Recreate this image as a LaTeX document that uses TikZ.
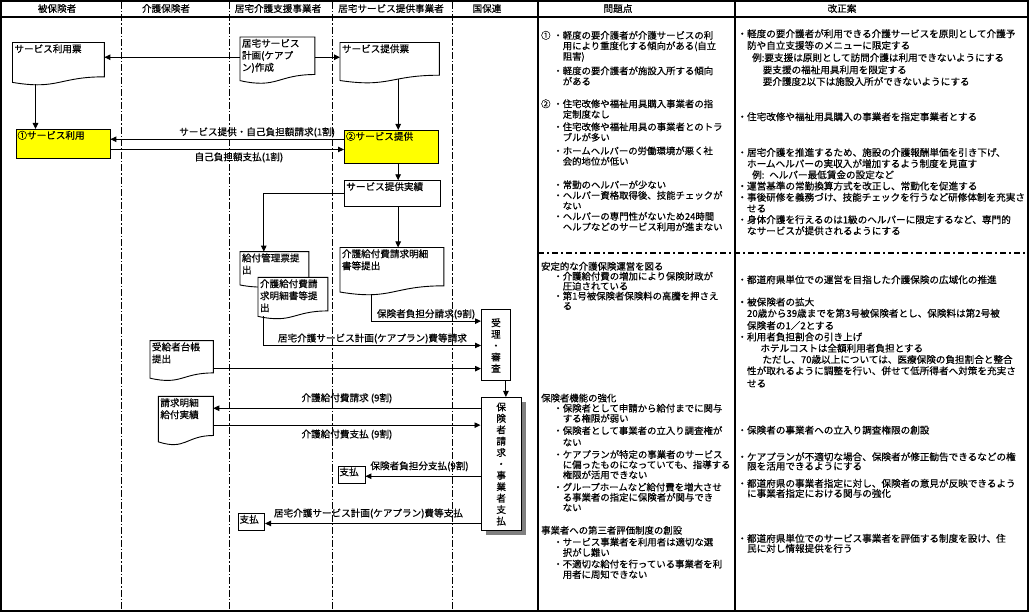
\documentclass[tikz,border=0pt]{standalone}
\usepackage{fontspec}
\setmainfont{Noto Sans CJK JP}[FakeBold=0.5]
\usepackage{tikz}
\usetikzlibrary{calc,positioning,arrows.meta,shadows}
\usepackage{xcolor}
\definecolor{myyellow}{RGB}{255,255,0}
\definecolor{mygray}{RGB}{128,128,128}

% outline of a flowchart "document" around a node
\newcommand{\docline}[1]{%
  \draw (#1.north west) -- (#1.north east)
    -- ($(#1.north east)!0.80!(#1.south east)$)
    .. controls ($(#1.north)!0.80!(#1.south)$) and ($(#1.north)!1.11!(#1.south)$)
    .. ($(#1.north west)!0.93!(#1.south west)$) -- cycle;}
\newcommand{\ind}{\hspace*{1.3em}}
\newcommand{\indd}{\hspace*{2.3em}}
\newcommand{\kind}{\hspace*{1em}}

\begin{document}
\begin{tikzpicture}[x=1pt, y=-1pt, line width=0.9pt,
  font=\fontsize{9.6}{12}\selectfont,
  arr/.style={-{Triangle[length=6pt,width=5.5pt]}},
  tbox/.style 2 args={anchor=north west, inner sep=1.5pt, text width=#1, text height=8pt, text depth=#2, align=left},
  vbox/.style={draw, fill=white, anchor=north west, inner sep=0pt, align=center, font=\fontsize{9.6}{11.4}\selectfont},
  lbl/.style={inner sep=1.5pt},
  colline/.style={line width=0.8pt, dash pattern=on 7pt off 2pt on 1.5pt off 2pt},
  note/.style={anchor=north west, inner sep=0pt, align=left, text width=#1}]

  \useasboundingbox (0,0) rectangle (1029,612);

  % frame and lanes
  \foreach \x in {121,229,332,452} \draw[colline] (\x,2) -- (\x,610);
  \draw[line width=2pt] (538,1) -- (538,611);
  \draw[line width=2pt] (735,1) -- (735,611);
  \draw[line width=2pt] (1,17) -- (1028,17);
  \draw[line width=2pt] (1,1) rectangle (1028,611);
  \draw[line width=2pt, dash pattern=on 6pt off 3pt on 2pt off 3pt] (538,252.7) -- (1028,252.7);

  % headers
  \node (hhiho) at (57,8.5) {被保険者};
  \node (hkaigo) at (166,8.5) {介護保険者};
  \node (hkyotaku) at (278,8.5) {居宅介護支援事業者};
  \node (hservice) at (391,8.5) {居宅サービス提供事業者};
  \node (hkokuho) at (487,8.5) {国保連};
  \node (hmondai) at (618,8.5) {問題点};
  \node (hkaisei) at (842,8.5) {改正案};

  % flow boxes
  \node[tbox={88pt}{31pt}] (riyohyo) at (12.5,42.5) {サービス利用票};
  \docline{riyohyo}
  \node[tbox={71pt}{35pt}] (plan) at (240,37) {居宅サービス\\計画(ケアプ\\ン)作成};
  \docline{plan}
  \node[tbox={95.5pt}{29pt}] (teikyohyo) at (340,42.5) {サービス提供票};
  \docline{teikyohyo}
  \node[tbox={91pt}{18.5pt}, draw, fill=myyellow] (riyo) at (15.5,129) {①サービス利用};
  \node[tbox={91pt}{22pt}, draw, fill=myyellow] (teikyo) at (344,130) {②サービス提供};
  \node[tbox={92.3pt}{14.5pt}, draw] (jisseki) at (344.4,180.3) {サービス提供実績};
  \node[tbox={100pt}{36pt}] (meisai) at (340,247.5) {介護給付費請求明細\\書等提出};
  \docline{meisai}
  \node[tbox={65pt}{24pt}] (kanri) at (240,251.6) {給付管理票提\\出};
  \docline{kanri}
  \node[tbox={66pt}{30pt}, fill=white] (kmeisai) at (258,277.4) {介護給付費請\\求明細書等提\\出};
  \docline{kmeisai}
  \node[tbox={59.5pt}{28.5pt}] (daicho) at (150,340.6) {受給者台帳\\提出};
  \docline{daicho}
  \node[vbox, minimum width=29pt, minimum height=71pt] (juri) at (481,309.5) {受\\理\\・\\審\\査};
  \node[vbox, minimum width=40.5pt, minimum height=133pt,
    drop shadow={shadow xshift=5pt, shadow yshift=-5pt, fill=mygray, opacity=1}] (hoken) at (480.5,397)
    {保\\険\\者\\請\\求\\・\\事\\業\\者\\支\\払};
  \node[tbox={51pt}{37pt}] (seikyu) at (158.4,396.4) {請求明細\\給付実績};
  \docline{seikyu}
  \node[tbox={24pt}{6pt}, draw] (shiharai1) at (337.5,465.5) {支払};
  \node[tbox={23.5pt}{6pt}, draw] (shiharai2) at (237.6,513) {支払};

  % connectors
  \draw[arr] ([yshift=3.2pt]plan.west) -- ([yshift=3.2pt]plan.west -| riyohyo.east);
  \draw[arr] ([yshift=3.2pt]plan.east) -- ([yshift=3.2pt]plan.east -| teikyohyo.west);
  \draw[arr] ([xshift=23pt,yshift=1pt]riyohyo.south west) -- ([xshift=23pt]riyohyo.south west |- riyo.north);
  \draw[arr] ([xshift=8.5pt,yshift=4pt]teikyohyo.south) -- ([xshift=8.5pt]teikyohyo.south |- teikyo.north);
  \draw[arr] ([yshift=7.7pt]teikyo.west) -- ([yshift=7.7pt]teikyo.west -| riyo.east)
    node[lbl, pos=0.03, above left] {サービス提供・自己負担額請求(1割)};
  \draw[arr] ([yshift=-5.25pt]riyo.east) -- ([yshift=-5.25pt]riyo.east -| teikyo.west)
    node[lbl, pos=0.55, below, yshift=-1pt] {自己負担額支払(1割)};
  \draw[arr] ([xshift=6.7pt]teikyo.south) -- ([xshift=6.7pt]teikyo.south |- jisseki.north);
  \draw[arr] (jisseki.west) -| ([xshift=23.8pt]kanri.north west);
  \draw[arr] ([xshift=5.65pt]jisseki.south) -- ([xshift=5.65pt]jisseki.south |- meisai.north);
  \draw[arr] ([xshift=31.2pt,yshift=1pt]meisai.south west) |- ([yshift=24.3pt]juri.west)
    node[lbl, pos=0.75, above] {保険者負担分請求(9割)};
  \draw[arr] ([xshift=5.8pt,yshift=3pt]kmeisai.south west) |- (juri.west)
    node[lbl, pos=0.75, above] {居宅介護サービス計画(ケアプラン)費等請求};
  \draw[arr] ([yshift=-7.85pt]daicho.east) -- ([yshift=-7.85pt]daicho.east -| juri.west);
  \draw[arr] ([xshift=-5pt]juri.south east) -- ([xshift=-5pt]juri.south east |- hoken.north);
  \draw[arr] ([yshift=12.6pt]seikyu.east -| hoken.west) -- ([yshift=12.6pt]seikyu.east)
    node[lbl, midway, above, yshift=3pt] {介護給付費請求 (9割)};
  \draw[arr] ([yshift=-4.3pt]seikyu.east) -- ([yshift=-4.3pt]seikyu.east -| hoken.west)
    node[lbl, midway, below, yshift=-2.5pt] {介護給付費支払 (9割)};
  \draw[arr] ([yshift=-1.8pt]shiharai1.east -| hoken.west) -- ([yshift=-1.8pt]shiharai1.east)
    node[lbl, pos=0.53, above, yshift=3pt] {保険者負担分支払(9割)};
  \draw[arr] ([yshift=-1.5pt]shiharai2.east -| hoken.west) -- ([yshift=-1.5pt]shiharai2.east)
    node[lbl, pos=0.52, above, yshift=3pt] {居宅介護サービス計画(ケアプラン)費等支払};

  % problems
  \node[note=195pt, font=\fontsize{9.4}{10.5}\selectfont] (mondai1) at (540.7,30.5) {%
    ①\hspace{0.3em}・軽度の要介護者が介護サービスの利\\
    \indd 用により重度化する傾向がある(自立\\
    \indd 阻害)\\[4pt]
    \ind ・軽度の要介護者が施設入所する傾向\\
    \indd がある\\[12pt]
    ②\hspace{0.3em}・住宅改修や福祉用具購入事業者の指\\
    \indd 定制度なし\\[2pt]
    \ind ・住宅改修や福祉用具の事業者とのトラ\\
    \indd ブルが多い\\[3pt]
    \ind ・ホームヘルパーの労働環境が悪く社\\
    \indd 会的地位が低い\\[13pt]
    \ind ・常勤のヘルパーが少ない\\
    \ind ・ヘルパー資格取得後、技能チェックが\\
    \indd ない\\
    \ind ・ヘルパーの専門性がないため24時間\\
    \indd ヘルプなどのサービス利用が進まない};
  \node[note=195pt, font=\fontsize{9.4}{9.9}\selectfont] (mondai2) at (540.7,261.5) {%
    安定的な介護保険運営を図る\\
    \ind ・介護給付費の増加により保険財政が\\
    \indd 圧迫されている\\
    \ind ・第1号被保険者保険料の高騰を押さえ\\
    \indd る};
  \node[note=195pt, font=\fontsize{9.4}{10.2}\selectfont] (mondai3) at (540.7,393.2) {%
    保険者機能の強化\\
    \ind ・保険者として申請から給付までに関与\\
    \indd する権限が弱い\\[2pt]
    \ind ・保険者として事業者の立入り調査権が\\[1.5pt]
    \indd ない\\[2pt]
    \ind ・ケアプランが特定の事業者のサービス\\
    \indd に偏ったものになっていても、指導する\\
    \indd 権限が活用できない\\[2pt]
    \ind ・グループホームなど給付費を増大させ\\
    \indd る事業者の指定に保険者が関与でき\\
    \indd ない};
  \node[note=195pt, font=\fontsize{9.4}{10.5}\selectfont] (mondai4) at (540.7,525.5) {%
    事業者への第三者評価制度の創設\\[1.2pt]
    \ind ・サービス事業者を利用者は適切な選\\
    \indd 択がし難い\\[1pt]
    \ind ・不適切な給付を行っている事業者を利\\
    \indd 用者に周知できない};

  % proposals
  \node[note=290pt, font=\fontsize{9.6}{11.2}\selectfont] (kaisei1) at (737,28.8) {%
    ・軽度の要介護者が利用できる介護サービスを原則として介護予\\[0.5pt]
    \kind 防や自立支援等のメニューに限定する\\[1pt]
    \hspace*{14.7pt}例:要支援は原則として訪問介護は利用できないようにする\\[1pt]
    \hspace*{25.3pt}要支援の福祉用具利用を限定する\\[0.5pt]
    \hspace*{25.3pt}要介護度2以下は施設入所ができないようにする\\[24pt]
    ・住宅改修や福祉用具購入の事業者を指定事業者とする\\[24.5pt]
    ・居宅介護を推進するため、施設の介護報酬単価を引き下げ、\\
    \kind ホームヘルパーの実収入が増加するよう制度を見直す\\
    \hspace*{14.7pt}例: ヘルパー最低賃金の設定など\\
    ・運営基準の常勤換算方式を改正し、常勤化を促進する\\
    ・事後研修を義務づけ、技能チェックを行うなど研修体制を充実さ\\
    \kind せる\\
    ・身体介護を行えるのは1級のヘルパーに限定するなど、専門的\\
    \kind なサービスが提供されるようにする};
  \node[note=290pt, font=\fontsize{9.6}{11.3}\selectfont] (kaisei2) at (737,274.8) {%
    ・都道府県単位での運営を目指した介護保険の広域化の推進\\[11pt]
    ・被保険者の拡大\\
    \kind 20歳から39歳までを第3号被保険者とし、保険料は第2号被\\[1pt]
    \kind 保険者の1／2とする\\
    ・利用者負担割合の引き上げ\\
    \hspace*{23pt}ホテルコストは全額利用者負担とする\\
    \hspace*{25pt}ただし、70歳以上については、医療保険の負担割合と整合\\
    \kind 性が取れるように調整を行い、併せて低所得者へ対策を充実さ\\[1.3pt]
    \kind せる\\[35.4pt]
    ・保険者の事業者への立入り調査権限の創設\\[15.4pt]
    ・ケアプランが不適切な場合、保険者が修正勧告できるなどの権\\[-2pt]
    \kind 限を活用できるようにする\\[6pt]
    ・都道府県の事業者指定に対し、保険者の意見が反映できるよう\\[-1.3pt]
    \kind に事業者指定における関与の強化\\[33.7pt]
    ・都道府県単位でのサービス事業者を評価する制度を設け、住\\[-1.3pt]
    \kind 民に対し情報提供を行う};
\end{tikzpicture}
\end{document}
